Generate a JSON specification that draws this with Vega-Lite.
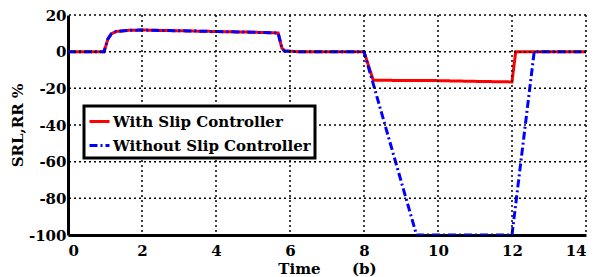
{
  "$schema": "https://vega.github.io/schema/vega-lite/v6.json",
  "width": 518,
  "height": 220,
  "autosize": "none",
  "padding": {"left": 68, "top": 15, "right": 9, "bottom": 42},
  "background": "white",
  "config": {
    "view": {"stroke": null},
    "font": "DejaVu Serif",
    "axis": {
      "grid": false,
      "labelFont": "DejaVu Serif",
      "labelFontWeight": "bold",
      "labelFontSize": 15,
      "labelColor": "black",
      "labelOverlap": false,
      "titleFont": "DejaVu Serif",
      "titleFontWeight": "bold",
      "titleFontSize": 15,
      "titleColor": "black",
      "domainColor": "black",
      "domainWidth": 3,
      "tickColor": "black",
      "tickWidth": 2,
      "tickSize": 0
    },
    "legend": {
      "labelFont": "DejaVu Serif",
      "labelFontWeight": "bold",
      "labelFontSize": 15,
      "labelColor": "black",
      "strokeColor": "black",
      "strokeWidth": 3,
      "fillColor": "white"
    }
  },
  "datasets": {
    "gridx": [{"t": 2}, {"t": 4}, {"t": 6}, {"t": 8}, {"t": 10}, {"t": 12}, {"t": 14}],
    "gridy": [{"v": -80}, {"v": -60}, {"v": -40}, {"v": -20}, {"v": 0}, {"v": 20}],
    "series": [
      {"t": 0, "v": 0, "s": "With Slip Controller"},
      {"t": 0.97, "v": 0, "s": "With Slip Controller"},
      {"t": 1.02, "v": 3, "s": "With Slip Controller"},
      {"t": 1.08, "v": 7, "s": "With Slip Controller"},
      {"t": 1.17, "v": 9.7, "s": "With Slip Controller"},
      {"t": 1.3, "v": 11, "s": "With Slip Controller"},
      {"t": 1.6, "v": 11.6, "s": "With Slip Controller"},
      {"t": 2, "v": 11.8, "s": "With Slip Controller"},
      {"t": 3, "v": 11.4, "s": "With Slip Controller"},
      {"t": 4, "v": 11, "s": "With Slip Controller"},
      {"t": 5, "v": 10.6, "s": "With Slip Controller"},
      {"t": 5.68, "v": 10.2, "s": "With Slip Controller"},
      {"t": 5.73, "v": 6, "s": "With Slip Controller"},
      {"t": 5.78, "v": 2, "s": "With Slip Controller"},
      {"t": 5.85, "v": 0.4, "s": "With Slip Controller"},
      {"t": 6.2, "v": 0, "s": "With Slip Controller"},
      {"t": 8, "v": 0, "s": "With Slip Controller"},
      {"t": 8.25, "v": -15.6, "s": "With Slip Controller"},
      {"t": 10, "v": -15.8, "s": "With Slip Controller"},
      {"t": 11, "v": -16.2, "s": "With Slip Controller"},
      {"t": 12, "v": -16.5, "s": "With Slip Controller"},
      {"t": 12.1, "v": 0, "s": "With Slip Controller"},
      {"t": 14, "v": 0, "s": "With Slip Controller"},
      {"t": 0, "v": 0, "s": "Without Slip Controller"},
      {"t": 0.97, "v": 0, "s": "Without Slip Controller"},
      {"t": 1.02, "v": 3, "s": "Without Slip Controller"},
      {"t": 1.08, "v": 7, "s": "Without Slip Controller"},
      {"t": 1.17, "v": 9.7, "s": "Without Slip Controller"},
      {"t": 1.3, "v": 11, "s": "Without Slip Controller"},
      {"t": 1.6, "v": 11.6, "s": "Without Slip Controller"},
      {"t": 2, "v": 11.8, "s": "Without Slip Controller"},
      {"t": 3, "v": 11.4, "s": "Without Slip Controller"},
      {"t": 4, "v": 11, "s": "Without Slip Controller"},
      {"t": 5, "v": 10.6, "s": "Without Slip Controller"},
      {"t": 5.68, "v": 10.2, "s": "Without Slip Controller"},
      {"t": 5.73, "v": 6, "s": "Without Slip Controller"},
      {"t": 5.78, "v": 2, "s": "Without Slip Controller"},
      {"t": 5.85, "v": 0.4, "s": "Without Slip Controller"},
      {"t": 6.2, "v": 0, "s": "Without Slip Controller"},
      {"t": 8, "v": 0, "s": "Without Slip Controller"},
      {"t": 9.42, "v": -100, "s": "Without Slip Controller"},
      {"t": 12, "v": -100, "s": "Without Slip Controller"},
      {"t": 12.6, "v": 0, "s": "Without Slip Controller"},
      {"t": 14, "v": 0, "s": "Without Slip Controller"}
    ]
  },
  "layer": [
    {
      "data": {"name": "series"},
      "mark": {"type": "line", "strokeWidth": 3, "clip": true},
      "encoding": {
        "x": {
          "field": "t", "type": "quantitative",
          "scale": {"domain": [0, 14], "nice": false, "zero": false},
          "axis": {"values": [0, 2, 4, 6, 8, 10, 12, 14], "title": "Time\u00a0\u00a0\u00a0\u00a0\u00a0\u00a0(b)", "titlePadding": 3, "labelPadding": 8, "labelExpr": "toString(datum.value)"}
        },
        "y": {
          "field": "v", "type": "quantitative",
          "scale": {"domain": [-100, 20], "nice": false},
          "axis": {"values": [-100, -80, -60, -40, -20, 0, 20], "title": "SRL,RR %", "titlePadding": 3, "labelPadding": 2, "labelExpr": "toString(datum.value)"}
        },
        "color": {
          "field": "s", "type": "nominal",
          "scale": {"domain": ["With Slip Controller", "Without Slip Controller"], "range": ["#ff0000", "#0000ff"]},
          "legend": {
            "title": null,
            "orient": "none",
            "legendX": 16,
            "legendY": 91,
            "symbolType": "stroke",
            "symbolSize": 400,
            "symbolStrokeWidth": 3,
            "padding": 4,
            "rowPadding": 4,
            "labelOffset": 2,
            "labelLimit": 300
          }
        },
        "strokeDash": {
          "field": "s", "type": "nominal",
          "scale": {"domain": ["With Slip Controller", "Without Slip Controller"], "range": [[1, 0], [8, 3, 2, 3]]},
          "legend": null
        },
        "order": {"field": "t", "type": "quantitative"}
      }
    },
    {
      "data": {"name": "gridx"},
      "mark": {"type": "rule", "color": "black", "strokeWidth": 1.5, "strokeDash": [2, 3], "opacity": 1},
      "encoding": {
        "x": {
          "field": "t", "type": "quantitative",
          "scale": {"domain": [0, 14], "nice": false, "zero": false},
          "axis": {"values": [0, 2, 4, 6, 8, 10, 12, 14], "title": "Time\u00a0\u00a0\u00a0\u00a0\u00a0\u00a0(b)", "titlePadding": 3, "labelPadding": 8, "labelExpr": "toString(datum.value)"}
        }
      }
    },
    {
      "data": {"name": "gridy"},
      "mark": {"type": "rule", "color": "black", "strokeWidth": 1.5, "strokeDash": [2, 3], "opacity": 1},
      "encoding": {
        "y": {
          "field": "v", "type": "quantitative",
          "scale": {"domain": [-100, 20], "nice": false},
          "axis": {"values": [-100, -80, -60, -40, -20, 0, 20], "title": "SRL,RR %", "titlePadding": 3, "labelPadding": 2, "labelExpr": "toString(datum.value)"}
        }
      }
    }
  ]
}
